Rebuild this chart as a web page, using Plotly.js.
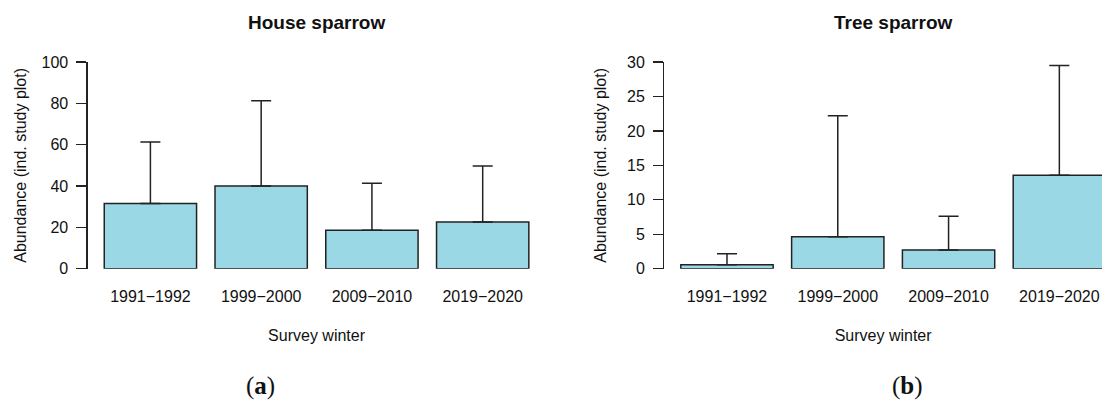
<!DOCTYPE html>
<html>
<head>
<meta charset="utf-8">
<script src="https://cdn.plot.ly/plotly-3.0.1.min.js"></script>
<style>
html,body{margin:0;padding:0;background:#fff;}
#chart{width:1102px;height:401px;}
</style>
</head>
<body>
<div id="chart"></div>
<script>
// Data
var winters = ["1991\u22121992", "1999\u22122000", "2009\u22122010", "2019\u22122020"];
var houseMean = [31.6, 40.0, 18.6, 22.6];
var houseUpper = [61.3, 81.3, 41.3, 49.7];
var treeMean = [0.58, 4.64, 2.71, 13.55];
var treeUpper = [2.18, 22.2, 7.6, 29.5];
var houseTicks = [0, 20, 40, 60, 80, 100];
var treeTicks = [0, 5, 10, 15, 20, 25, 30];

var FILL = "#9AD8E6";
var EDGE = "#222222";
var FONT = "Liberation Sans, Arial, sans-serif";

function diff(a, b) { return a.map(function (v, i) { return v - b[i]; }); }
function zeros(a) { return a.map(function () { return 0; }); }

function barTrace(means, uppers, xa, ya) {
  return {
    type: "bar",
    x: winters,
    y: means,
    xaxis: xa,
    yaxis: ya,
    width: 1 / 1.2,
    cliponaxis: false,
    marker: {color: FILL, line: {color: EDGE, width: 1.5}},
    error_y: {
      type: "data",
      symmetric: false,
      array: diff(uppers, means),
      arrayminus: zeros(means),
      color: "#222222",
      thickness: 1.5,
      width: 10
    },
    hoverinfo: "x+y",
    showlegend: false
  };
}

var data = [
  barTrace(houseMean, houseUpper, "x", "y"),
  barTrace(treeMean, treeUpper, "x2", "y2")
];

function xAxis(domain, range) {
  return {
    domain: domain,
    range: range,
    type: "category",
    showline: false,
    showgrid: false,
    zeroline: false,
    ticks: "",
    ticklabelstandoff: 16,
    tickfont: {family: FONT, size: 16, color: "#111"},
    title: {text: "Survey winter", font: {family: FONT, size: 16, color: "#111"}, standoff: 26},
    fixedrange: true
  };
}
function yAxis(domain, range, ticks, anchor, standoff) {
  return {
    domain: domain,
    range: range,
    anchor: anchor,
    tickmode: "array",
    tickvals: ticks,
    ticktext: ticks.map(String),
    showline: true,
    linecolor: "#222",
    linewidth: 1.3,
    ticks: "outside",
    ticklen: 10,
    tickwidth: 1.3,
    tickcolor: "#222",
    ticklabelstandoff: 5,
    showgrid: false,
    zeroline: false,
    tickfont: {family: FONT, size: 16, color: "#111"},
    title: {text: "Abundance (ind. study plot)", font: {family: FONT, size: 16, color: "#111"}, standoff: standoff},
    fixedrange: true
  };
}

var yDom = [0.3299, 0.8454];
var layout = {
  width: 1102,
  height: 401,
  margin: {l: 0, r: 0, t: 0, b: 0},
  paper_bgcolor: "#fff",
  plot_bgcolor: "rgba(0,0,0,0)",
  bargap: 0,
  xaxis: xAxis([0.0796, 0.4949], [-0.566, 3.566]),
  yaxis: yAxis(yDom, [0, 100], houseTicks, "x", 11),
  xaxis2: xAxis([0.6028, 1.0], [-0.566, 3.385]),
  yaxis2: yAxis(yDom, [0, 30], treeTicks, "x2", 16),
  annotations: [
    {text: "<b>House sparrow</b>", xref: "paper", yref: "paper", x: 316 / 1102, y: 1 - 23 / 401,
     showarrow: false, xanchor: "center", yanchor: "middle", font: {family: FONT, size: 19, color: "#111"}},
    {text: "<b>Tree sparrow</b>", xref: "paper", yref: "paper", x: 893 / 1102, y: 1 - 23 / 401,
     showarrow: false, xanchor: "center", yanchor: "middle", font: {family: FONT, size: 19, color: "#111"}},
    {text: "(<b>a</b>)", xref: "paper", yref: "paper", x: 260 / 1102, y: 1 - 386 / 401,
     showarrow: false, xanchor: "center", yanchor: "middle", font: {family: "Liberation Serif, serif", size: 25, color: "#111"}},
    {text: "(<b>b</b>)", xref: "paper", yref: "paper", x: 907 / 1102, y: 1 - 386 / 401,
     showarrow: false, xanchor: "center", yanchor: "middle", font: {family: "Liberation Serif, serif", size: 25, color: "#111"}}
  ]
};

Plotly.newPlot("chart", data, layout, {displayModeBar: false, staticPlot: true});
</script>
</body>
</html>
